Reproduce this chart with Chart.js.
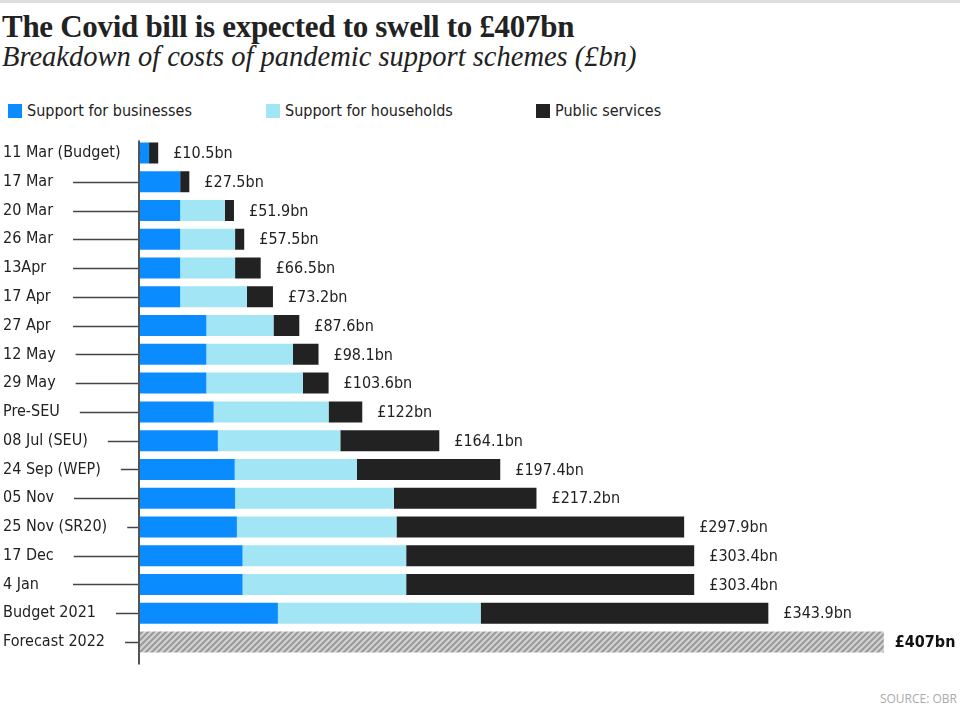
<!DOCTYPE html>
<html>
<head>
<meta charset="utf-8">
<script src="https://cdn.jsdelivr.net/npm/chart.js@4"></script>
<style>
  html, body { margin:0; padding:0; background:#fff; }
  #wrap { position:relative; width:960px; height:727px; overflow:hidden; }
  #topline { position:absolute; left:0; top:0; width:960px; height:3px; background:#dedede; }
  #title { position:absolute; left:2px; top:11px; line-height:1; font-family:'Liberation Serif', serif; font-weight:bold; font-size:31px; color:#222; white-space:nowrap; letter-spacing:-0.3px; }
  #subtitle { position:absolute; left:2px; top:43px; line-height:1; font-family:'Liberation Serif', serif; font-style:italic; font-size:28.5px; color:#222; white-space:nowrap; }
  .leg { position:absolute; top:101px; font-family:'DejaVu Sans Condensed','Liberation Sans Narrow',sans-serif; font-size:16px; color:#222; white-space:nowrap; }
  .sw { display:inline-block; width:14px; height:14px; vertical-align:-2px; margin-right:5px; }
  #source { position:absolute; right:3px; top:690px; font-family:'Open Sans',sans-serif; font-size:12px; color:#aaa; }
  canvas { position:absolute; left:0; top:0; }
</style>
</head>
<body>
<div id="wrap">
  <div id="topline"></div>
  <div id="title">The Covid bill is expected to swell to £407bn</div>
  <div id="subtitle">Breakdown of costs of pandemic support schemes (£bn)</div>
  <div class="leg" style="left:8px"><span class="sw" style="background:#0a8cff"></span>Support for businesses</div>
  <div class="leg" style="left:266px"><span class="sw" style="background:#a2e6f6"></span>Support for households</div>
  <div class="leg" style="left:536px"><span class="sw" style="background:#222"></span>Public services</div>
  <div id="source">SOURCE: OBR</div>
  <canvas id="c" width="960" height="727"></canvas>
</div>
<script>
const categories = ['11 Mar (Budget)','17 Mar','20 Mar','26 Mar','13Apr','17 Apr','27 Apr','12 May','29 May','Pre-SEU','08 Jul (SEU)','24 Sep (WEP)','05 Nov','25 Nov (SR20)','17 Dec','4 Jan','Budget 2021','Forecast 2022'];
const businesses = [5.5,22.5,22.5,22.5,22.5,22.5,36.8,36.8,36.8,40.8,43.1,52.3,52.5,53.5,56.6,56.6,75.9,null];
const households = [0,0,24.4,30,30,36.5,36.7,47.3,52.7,62.8,66.9,66.7,86.8,87.2,89.4,89.4,110.8,null];
const publicServices = [5,5,5,5,14,14.2,14.1,14,14.1,18.4,54.1,78.4,77.9,157.2,157.4,157.4,157.2,null];
const forecast = [null,null,null,null,null,null,null,null,null,null,null,null,null,null,null,null,null,407];
const totals = [10.5,27.5,51.9,57.5,66.5,73.2,87.6,98.1,103.6,122,164.1,197.4,217.2,297.9,303.4,303.4,343.9,407];
const totalLabels = totals.map(t => '£' + t + 'bn');

const labelFont = "16px 'DejaVu Sans Condensed','Liberation Sans Narrow',sans-serif";

// hatch pattern for forecast
const pc = document.createElement('canvas');
pc.width = 6; pc.height = 6;
const p = pc.getContext('2d');
p.fillStyle = '#d2d2d2'; p.fillRect(0,0,6,6);
p.strokeStyle = '#9a9a9a'; p.lineWidth = 2;
p.beginPath();
p.moveTo(0,6); p.lineTo(6,0);
p.moveTo(-3,3); p.lineTo(3,-3);
p.moveTo(3,9); p.lineTo(9,3);
p.stroke();
const hatch = document.getElementById('c').getContext('2d').createPattern(pc,'repeat');

const decor = {
  id: 'decor',
  afterDatasetsDraw(chart) {
    const ctx = chart.ctx;
    const y = chart.scales.y, x = chart.scales.x;
    const area = chart.chartArea;
    ctx.save();
    // value labels
    totals.forEach((t, i) => {
      const last = i === totals.length - 1;
      ctx.font = last ? "bold 16px 'DejaVu Sans Condensed','Liberation Sans Narrow',sans-serif" : labelFont;
      ctx.fillStyle = last ? '#111' : '#222';
      ctx.textAlign = 'left';
      ctx.textBaseline = 'middle';
      ctx.fillText(totalLabels[i], x.getPixelForValue(t) + (last ? 11 : 15), y.getPixelForValue(i) + 1);
    });
    // tick leader lines
    ctx.font = labelFont;
    ctx.strokeStyle = '#444';
    ctx.lineWidth = 1.5;
    categories.forEach((c, i) => {
      const w = ctx.measureText(c).width;
      const start = Math.max(73, 3 + w + 20);
      const py = Math.round(y.getPixelForValue(i)) + 0.5;
      ctx.beginPath();
      ctx.moveTo(start, py);
      ctx.lineTo(area.left, py);
      ctx.stroke();
    });
    // axis line
    ctx.strokeStyle = '#555';
    ctx.lineWidth = 2;
    ctx.beginPath();
    ctx.moveTo(area.left, area.top + 2);
    ctx.lineTo(area.left, area.bottom + 8);
    ctx.stroke();
    ctx.restore();
  }
};

new Chart(document.getElementById('c'), {
  type: 'bar',
  data: {
    labels: categories,
    datasets: [
      { label: 'Support for businesses', data: businesses, backgroundColor: '#0a8cff' },
      { label: 'Support for households', data: households, backgroundColor: '#a2e6f6' },
      { label: 'Public services', data: publicServices, backgroundColor: '#222222' },
      { label: 'Forecast', data: forecast, backgroundColor: hatch }
    ]
  },
  options: {
    indexAxis: 'y',
    responsive: false,
    animation: false,
    datasets: { bar: { categoryPercentage: 1, barPercentage: 0.73, borderWidth: 0 } },
    layout: { padding: { left: 3, top: 138.6, bottom: 70.6, right: 52.4 } },
    plugins: { legend: { display: false }, tooltip: { enabled: false }, title: { display: false } },
    scales: {
      x: { stacked: true, min: 0, max: 420, display: false },
      y: {
        stacked: true,
        grid: { display: false, drawBorder: false },
        border: { display: false },
        ticks: {
          crossAlign: 'far',
          padding: 0,
          color: '#222',
          font: { family: "'DejaVu Sans Condensed','Liberation Sans Narrow',sans-serif", size: 16 }
        },
        afterFit(scale) { scale.width = 136; }
      }
    }
  },
  plugins: [decor]
});
</script>
</body>
</html>
